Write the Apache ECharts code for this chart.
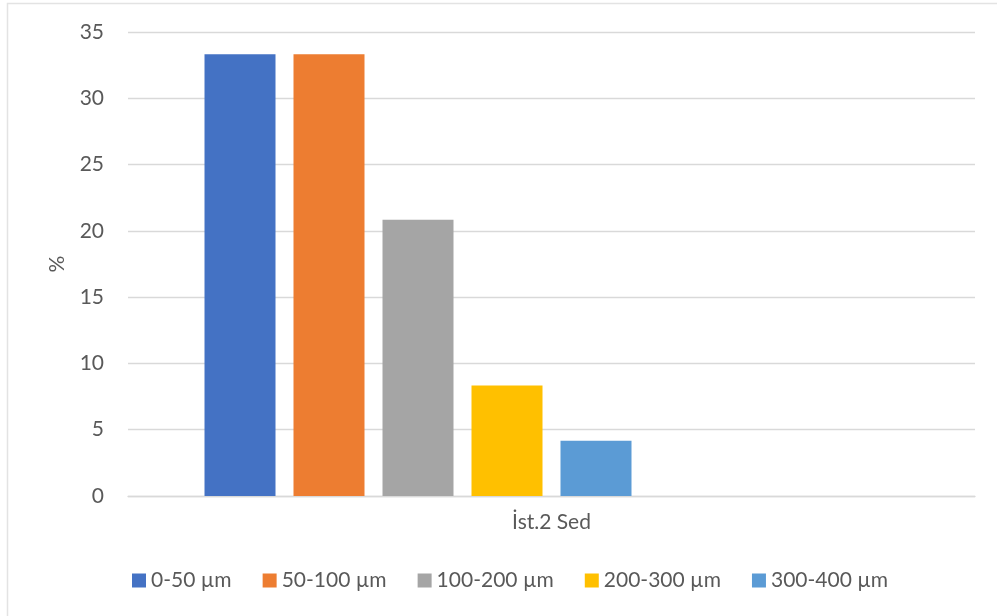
<!DOCTYPE html>
<html><head><meta charset="utf-8">
<script src="https://cdn.jsdelivr.net/npm/echarts@6/dist/echarts.min.js"></script>
<style>html,body{margin:0;padding:0;background:#fff}#c{width:997px;height:616px}</style>
</head><body><div id="c"></div>
<script>
const categories = ["İst.2 Sed"];
const seriesNames = ["0-50 µm", "50-100 µm", "100-200 µm", "200-300 µm", "300-400 µm"];
const seriesValues = [[33.33], [33.33], [20.83], [8.33], [4.17]];
const seriesColors = ["#4472C4", "#ED7D31", "#A5A5A5", "#FFC000", "#5B9BD5"];
const emptySlots = 3; // unused slots in the original chart's cluster
const yTicks = {min: 0, max: 35, interval: 5};

const font = "Lato";
const fs = 21;
const txt = "#595959";
const series = seriesNames.map((n, i) => ({
  name: n, type: "bar", data: seriesValues[i],
  itemStyle: {color: seriesColors[i]},
  barWidth: 71, barGap: "25.35%"
}));
for (let k = 0; k < emptySlots; k++) {
  series.push({name: "_empty" + k, type: "bar", data: [null], barWidth: 71, barGap: "25.35%"});
}
const chart = echarts.init(document.getElementById("c"));
chart.setOption({
  animation: false,
  textStyle: {fontFamily: font},
  graphic: [{type: "rect", shape: {x: 7.5, y: 3.5, width: 1200, height: 800},
    style: {fill: "none", stroke: "#e3e3e3", lineWidth: 1.5}, silent: true}],
  grid: {left: 128, right: 22, top: 32, bottom: 120},
  legend: {data: seriesNames, left: 132, top: 570, padding: 0, itemWidth: 14, itemHeight: 14, itemGap: 31,
    icon: "rect", textStyle: {color: txt, fontSize: fs, fontFamily: font}},
  xAxis: {type: "category", data: categories,
    axisLine: {lineStyle: {color: "#d9d9d9", width: 1.3}}, axisTick: {show: false},
    axisLabel: {color: txt, fontSize: fs, margin: 16, fontFamily: font}},
  yAxis: {type: "value", min: yTicks.min, max: yTicks.max, interval: yTicks.interval,
    name: "%", nameLocation: "middle", nameGap: 60, nameRotate: 90,
    nameTextStyle: {color: txt, fontSize: fs, fontFamily: font},
    axisLine: {show: false}, axisTick: {show: false},
    axisLabel: {color: txt, fontSize: fs, margin: 24, fontFamily: font},
    splitLine: {lineStyle: {color: "#d9d9d9", width: 1.3}}},
  series: series
});
</script></body></html>
